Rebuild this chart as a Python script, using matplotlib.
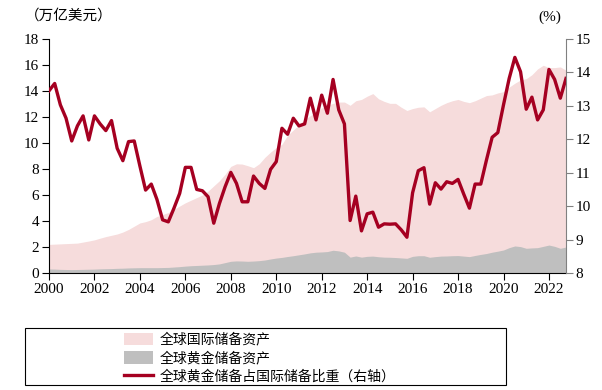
import numpy as np
import matplotlib
matplotlib.use("Agg")
import matplotlib.pyplot as plt
from matplotlib.patches import Rectangle

plt.rcParams['font.family'] = ['Liberation Serif', 'Noto Sans CJK SC']

# quarterly, 2000Q1 .. 2022Q4 (x = year + quarter offset)
years = 2000 + np.arange(92) * 0.25

# global international reserves, trillion USD (left axis)
total_reserves = [
    2.20, 2.22, 2.24, 2.26, 2.28, 2.30, 2.38, 2.46,
    2.55, 2.68, 2.80, 2.90, 3.00, 3.15, 3.35, 3.60,
    3.85, 3.95, 4.10, 4.35, 4.50, 4.65, 4.90, 5.15,
    5.40, 5.60, 5.80, 6.00, 6.30, 6.70, 7.10, 7.60,
    8.20, 8.40, 8.38, 8.25, 8.10, 8.40, 8.90, 9.30,
    9.65, 9.90, 10.6, 11.0, 11.4, 11.8, 12.1, 12.4,
    12.7, 12.9, 13.05, 13.15, 13.15, 12.9, 13.25, 13.35,
    13.6, 13.8, 13.4, 13.2, 13.05, 13.05, 12.75, 12.5,
    12.65, 12.75, 12.78, 12.4, 12.65, 12.9, 13.1, 13.25,
    13.35, 13.2, 13.1, 13.25, 13.45, 13.65, 13.7, 13.85,
    13.95, 14.3, 14.6, 14.85, 14.95, 15.25, 15.7, 15.98,
    15.8, 15.8, 15.85, 15.6,
]

# global gold reserves, trillion USD (left axis)
gold_reserves = [
    0.31, 0.30, 0.28, 0.27, 0.26, 0.27, 0.28, 0.29,
    0.30, 0.32, 0.33, 0.34, 0.36, 0.37, 0.39, 0.40,
    0.41, 0.41, 0.41, 0.41, 0.42, 0.43, 0.46, 0.49,
    0.53, 0.56, 0.58, 0.60, 0.62, 0.65, 0.70, 0.80,
    0.90, 0.93, 0.92, 0.90, 0.92, 0.95, 1.00, 1.08,
    1.15, 1.20, 1.27, 1.33, 1.40, 1.47, 1.55, 1.60,
    1.62, 1.65, 1.75, 1.70, 1.60, 1.22, 1.31, 1.22,
    1.28, 1.30, 1.25, 1.22, 1.21, 1.19, 1.16, 1.13,
    1.28, 1.33, 1.33, 1.21, 1.26, 1.30, 1.31, 1.33,
    1.34, 1.30, 1.26, 1.35, 1.43, 1.50, 1.60, 1.68,
    1.77, 1.95, 2.08, 2.03, 1.90, 1.93, 1.95, 2.05,
    2.15, 2.05, 1.90, 2.00,
]

# gold share of international reserves, % (right axis)
gold_share = [
    13.45, 13.67, 13.03, 12.63, 11.95, 12.40, 12.70, 11.98,
    12.70, 12.46, 12.26, 12.56, 11.73, 11.36, 11.93, 11.95,
    11.20, 10.48, 10.66, 10.20, 9.59, 9.53, 9.94, 10.38,
    11.16, 11.16, 10.50, 10.46, 10.28, 9.49, 10.08, 10.58,
    11.01, 10.68, 10.13, 10.13, 10.90, 10.68, 10.53, 11.10,
    11.33, 12.33, 12.15, 12.63, 12.40, 12.46, 13.23, 12.58,
    13.32, 12.78, 13.79, 12.88, 12.46, 9.57, 10.30, 9.26,
    9.77, 9.82, 9.37, 9.47, 9.46, 9.47, 9.29, 9.07,
    10.40, 11.06, 11.15, 10.06, 10.70, 10.51, 10.73, 10.68,
    10.80, 10.36, 9.94, 10.66, 10.66, 11.38, 12.06, 12.20,
    13.03, 13.82, 14.45, 14.02, 12.90, 13.26, 12.58, 12.88,
    14.09, 13.79, 13.23, 13.82,
]

xticks = list(range(2000, 2023, 2))

pink = '#f6dcdc'
grey = '#bfbfbf'
red = '#a50021'

fig = plt.figure(figsize=(6.02, 3.90), dpi=100)
ax = fig.add_axes([49 / 602, 1 - 273 / 390, (566 - 49) / 602, (273 - 39) / 390])
ax2 = ax.twinx()

a1 = ax.fill_between(years, 0, total_reserves, color=pink, lw=0)
a2 = ax.fill_between(years, 0, gold_reserves, color=grey, lw=0)
l1, = ax2.plot(years, gold_share, color=red, lw=2.4)

ax.set_xlim(years[0], years[-1])
ax.set_ylim(0, 18)
ax.set_yticks(range(0, 19, 2))
ax.set_xticks(xticks)
ax2.set_ylim(8, 15)
ax2.set_yticks(range(8, 16))

for s in ['top', 'right']:
    ax.spines[s].set_visible(False)
ax2.spines['top'].set_visible(False)
ax2.spines['left'].set_visible(False)
ax2.spines['bottom'].set_visible(False)
ax2.spines['right'].set_color('#808080')
ax.tick_params(labelsize=11, length=5, direction='out', pad=2)
ax2.tick_params(labelsize=11, length=5, direction='out', color='#808080', pad=2)

fig.text(25 / 602, 1 - 16 / 390, '（万亿美元）', fontsize=10.5, va='center', ha='left')
fig.text(550 / 602, 1 - 17 / 390, '(%)', fontsize=11, va='center', ha='center')

# legend box
fig.add_artist(Rectangle((25 / 602, 1 - 385 / 390), (506 - 25) / 602, (385 - 328) / 390,
                         transform=fig.transFigure, fill=False, ec='black', lw=0.8))
fig.legend([a1, a2, l1],
           ['全球国际储备资产', '全球黄金储备资产', '全球黄金储备占国际储备比重（右轴）'],
           loc='upper left', bbox_to_anchor=(114 / 602, 1 - 323 / 390),
           frameon=False, fontsize=10, handlelength=2.1, handleheight=1.0,
           labelspacing=0.32, borderpad=0.2, handletextpad=0.5)

fig.savefig('out.png', dpi=100)
